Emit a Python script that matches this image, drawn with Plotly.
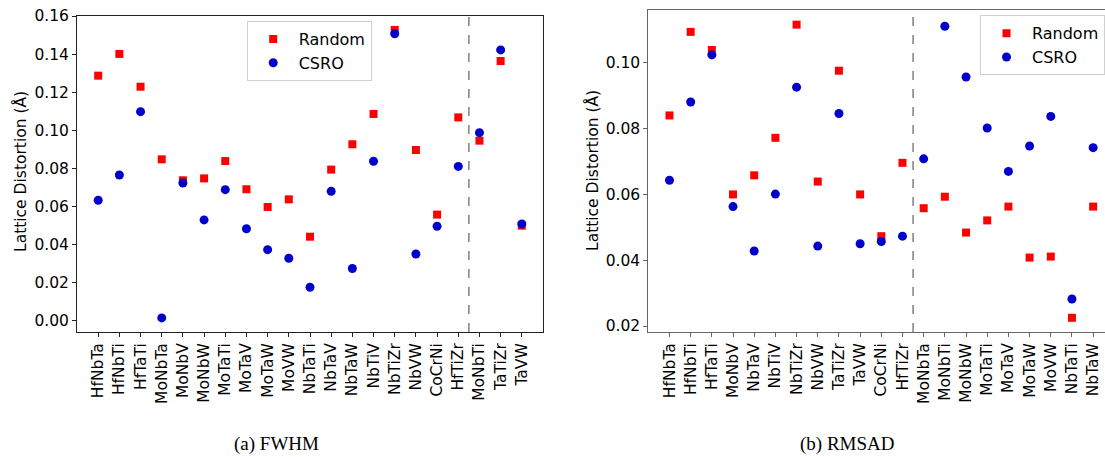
import plotly.graph_objects as go

W, H = 1105, 457

# ---------------- data ----------------
fwhm_cats = ["HfNbTa", "HfNbTi", "HfTaTi", "MoNbTa", "MoNbV", "MoNbW", "MoTaTi",
             "MoTaV", "MoTaW", "MoVW", "NbTaTi", "NbTaV", "NbTaW", "NbTiV",
             "NbTiZr", "NbVW", "CoCrNi", "HfTiZr", "MoNbTi", "TaTiZr", "TaVW"]
fwhm_random = [0.1287, 0.1401, 0.1229, 0.0848, 0.0738, 0.0748, 0.0839,
               0.0691, 0.0598, 0.0638, 0.0442, 0.0794, 0.0927, 0.1086,
               0.1527, 0.0897, 0.0558, 0.1068, 0.0946, 0.1364, 0.0500]
fwhm_csro = [0.0633, 0.0766, 0.1098, 0.0016, 0.0724, 0.0530, 0.0689,
             0.0484, 0.0374, 0.0329, 0.0177, 0.0680, 0.0275, 0.0838,
             0.1507, 0.0351, 0.0497, 0.0811, 0.0988, 0.1422, 0.0509]
fwhm_split = 18  # categories left of the dashed separator

rmsad_cats = ["HfNbTa", "HfNbTi", "HfTaTi", "MoNbV", "NbTaV", "NbTiV", "NbTiZr",
              "NbVW", "TaTiZr", "TaVW", "CoCrNi", "HfTiZr", "MoNbTa", "MoNbTi",
              "MoNbW", "MoTaTi", "MoTaV", "MoTaW", "MoVW", "NbTaTi", "NbTaW"]
rmsad_random = [0.0840, 0.1094, 0.1039, 0.0600, 0.0658, 0.0772, 0.1116,
                0.0639, 0.0976, 0.0600, 0.0473, 0.0696, 0.0558, 0.0593,
                0.0484, 0.0521, 0.0563, 0.0408, 0.0411, 0.0225, 0.0563]
rmsad_csro = [0.0643, 0.0881, 0.1024, 0.0563, 0.0428, 0.0601, 0.0926,
              0.0443, 0.0846, 0.0450, 0.0457, 0.0473, 0.0708, 0.1111,
              0.0957, 0.0802, 0.0670, 0.0747, 0.0837, 0.0282, 0.0742]
rmsad_split = 12

fwhm_yticks = [0.00, 0.02, 0.04, 0.06, 0.08, 0.10, 0.12, 0.14, 0.16]
rmsad_yticks = [0.02, 0.04, 0.06, 0.08, 0.10]

series_names = ["Random", "CSRO"]
captions = ["(a) FWHM", "(b) RMSAD"]
ytitle = "Lattice Distortion (Å)"

# ---------------- style ----------------
RED = "#ff0000"
BLUE = "#0000cc"
FONT = "DejaVu Sans"
FS = 15.5


def px_x(p):
    return p / W


def px_y(p):
    return 1 - p / H


fig = go.Figure()

panels = [
    (fwhm_cats, fwhm_random, fwhm_csro, "x", "y", "legend"),
    (rmsad_cats, rmsad_random, rmsad_csro, "x2", "y2", "legend2"),
]
for cats, rnd, csro, xa, ya, lg in panels:
    fig.add_trace(go.Scatter(
        x=cats, y=rnd, mode="markers", name=series_names[0],
        marker=dict(symbol="square", size=8, color=RED, line=dict(width=0)),
        xaxis=xa, yaxis=ya, legend=lg, cliponaxis=False))
    fig.add_trace(go.Scatter(
        x=cats, y=csro, mode="markers", name=series_names[1],
        marker=dict(symbol="circle", size=9, color=BLUE, line=dict(width=0)),
        xaxis=xa, yaxis=ya, legend=lg, cliponaxis=False))

axis_common = dict(
    showgrid=False, zeroline=False, showline=True, linewidth=1,
    ticks="outside", ticklen=4, tickwidth=1, automargin=False,
    tickfont=dict(family=FONT, size=FS, color="#000000"),
)

legend_common = dict(
    xanchor="left", yanchor="top", bgcolor="white",
    bordercolor="#d0d0d0", borderwidth=1, itemwidth=41,
    font=dict(family=FONT, size=16, color="#000000"),
)

fig.update_layout(
    width=W, height=H,
    margin=dict(l=0, r=0, t=0, b=0, pad=0, autoexpand=False),
    paper_bgcolor="white", plot_bgcolor="white",
    font=dict(family=FONT, size=FS, color="#000000"),
    xaxis=dict(**axis_common, domain=[px_x(77), px_x(543)],
               type="category", categoryorder="array", categoryarray=fwhm_cats,
               tickmode="array", tickvals=fwhm_cats, ticktext=fwhm_cats,
               tickangle=-90, range=[-1, len(fwhm_cats)],
               mirror=True, linecolor="#222222", tickcolor="#222222",
               anchor="y"),
    yaxis=dict(**axis_common, domain=[px_y(332), px_y(16)],
               range=[-0.0058, 0.1600], tickmode="array",
               tickvals=fwhm_yticks, tickformat=".2f",
               mirror=True, linecolor="#222222", tickcolor="#222222",
               anchor="x"),
    xaxis2=dict(**axis_common, domain=[px_x(648.3), 1.0],
                type="category", categoryorder="array", categoryarray=rmsad_cats,
                tickmode="array", tickvals=rmsad_cats, ticktext=rmsad_cats,
                tickangle=-90, range=[-1, 20.56],
                mirror=True, linecolor="#666666", tickcolor="#666666",
                anchor="y2"),
    yaxis2=dict(**axis_common, domain=[px_y(332), px_y(9.5)],
                range=[0.01818, 0.1162], tickmode="array",
                tickvals=rmsad_yticks, tickformat=".2f",
                mirror=False, linecolor="#666666", tickcolor="#666666",
                anchor="x2"),
    legend=dict(**legend_common, x=px_x(246.7), y=px_y(21)),
    legend2=dict(**legend_common, x=px_x(980), y=px_y(15.3)),
    showlegend=True,
)

# dashed group separators
for xa, ya, split in [("x", "y", fwhm_split), ("x2", "y2", rmsad_split)]:
    fig.add_shape(type="line", xref=xa, yref=f"{ya} domain",
                  x0=split - 0.5, x1=split - 0.5, y0=0, y1=1,
                  line=dict(color="#808080", width=1.5, dash="dash"))

# y-axis titles
fig.add_annotation(text=ytitle, xref="paper", yref="paper",
                   x=px_x(20), y=px_y(172), showarrow=False, textangle=-90,
                   font=dict(family=FONT, size=FS, color="#000000"),
                   xanchor="center", yanchor="middle")
fig.add_annotation(text=ytitle, xref="paper", yref="paper",
                   x=px_x(592), y=px_y(171), showarrow=False, textangle=-90,
                   font=dict(family=FONT, size=FS, color="#000000"),
                   xanchor="center", yanchor="middle")

# captions
fig.add_annotation(text=captions[0], xref="paper", yref="paper",
                   x=px_x(276), y=px_y(444), showarrow=False,
                   font=dict(family="Liberation Serif", size=19, color="#000000"),
                   xanchor="center", yanchor="middle")
fig.add_annotation(text=captions[1], xref="paper", yref="paper",
                   x=px_x(847), y=px_y(444), showarrow=False,
                   font=dict(family="Liberation Serif", size=19, color="#000000"),
                   xanchor="center", yanchor="middle")

fig.write_html(
    "out.html",
    config={"displayModeBar": False},
    post_script="document.body.style.margin='0';document.body.style.overflow='hidden';",
)
